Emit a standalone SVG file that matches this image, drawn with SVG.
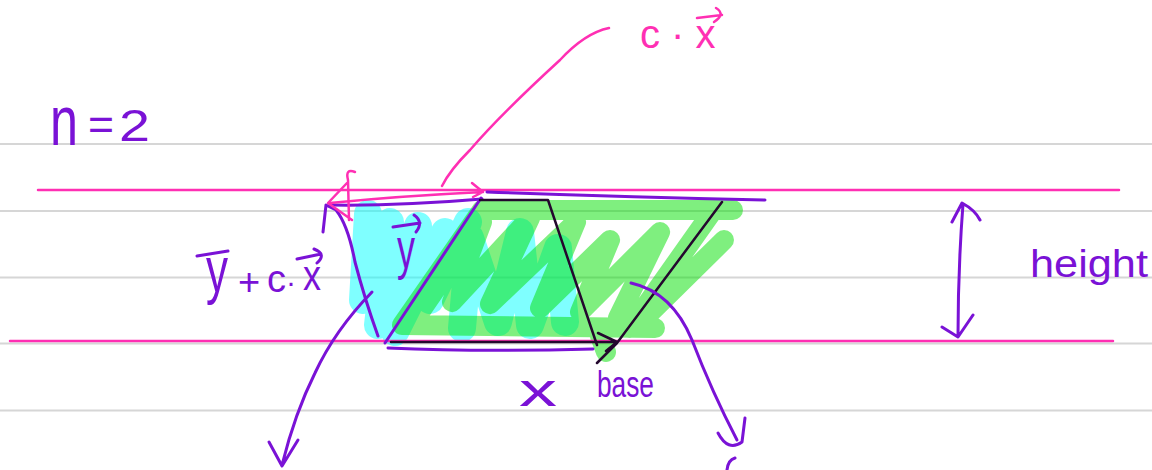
<svg xmlns="http://www.w3.org/2000/svg" width="1152" height="470" viewBox="0 0 1152 470">
<style>
.rule{stroke:#d6d6d6;stroke-width:2}
.s{fill:none;stroke-linecap:round;stroke-linejoin:round}
.pu{stroke:#7a12d6;stroke-width:3}
.pk{stroke:#ff2fb3;stroke-width:2.5}
.dk{stroke:#24082e;stroke-width:2.5}
.cy{stroke:#00ffff;stroke-opacity:0.5;stroke-width:28}
.gr{stroke:#00e000;stroke-opacity:0.5;stroke-width:20}
.t{font-family:"Liberation Sans",Arial,sans-serif}
.tp{fill:#7a12d6}
.tk{fill:#ff2fb3}
</style>
<rect width="1152" height="470" fill="#ffffff"/>
<g id="rules">
<line class="rule" x1="0" y1="144" x2="1152" y2="144"/>
<line class="rule" x1="0" y1="211" x2="1152" y2="211"/>
<line class="rule" x1="0" y1="277.5" x2="1152" y2="277.5"/>
<line class="rule" x1="0" y1="343.5" x2="1152" y2="343.5"/>
<line class="rule" x1="0" y1="410.5" x2="1152" y2="410.5"/>
</g>
<g id="highlights">
<path class="s cy" d="M368,214 L363,300 L390,222 L378,325 L418,226 L395,332 L445,232 L430,300 L468,222 M462,328 L470,238 L498,322 L520,232 L530,325 L558,248 L565,322"/>
<path class="s gr" d="M733,210 L482,210 L402,325 L655,328 M712,212 L630,328 M724,240 L645,318 M420,312 L482,222 L452,302 L530,218 L490,304 L576,222 L540,308 L610,240 L580,312 L660,232 L618,318 M600,336 L606,352"/>
</g>
<g id="guides">
<line class="s pk" x1="38" y1="190" x2="1119" y2="190"/>
<line class="s pk" x1="10" y1="341" x2="1113" y2="341"/>
</g>
<g id="shape">
<path class="s pu" d="M385,343 L481,198"/>
<path class="s pu" d="M330,205 Q400,206 482,199"/>
<path class="s pu" d="M487,192 Q620,197 765,200"/>
<path class="s dk" d="M480,200 L548,200 L597,345"/>
<path class="s dk" d="M722,202 L617,343 L597,363"/>
<path class="s dk" d="M391,342 L617,342 M598,333 L617,342 L606,351"/>
<path class="s pu" d="M388,348 Q480,352 593,349"/>
<path class="s pu" d="M378,336 Q365,300 355,262 Q348,225 336,210 L326,205 L323,232"/>
<path class="s pk" d="M330,203 Q400,196 483,192 M472,183 L483,192 L473,197"/>
<path class="s pk" d="M347,183 L328,203 L352,220 M348,180 L349,220 M348,180 Q345,168 355,172"/>
</g>
<g id="connectors">
<path class="s pk" d="M609,28 Q585,33 560,60 Q500,115 470,150 Q450,170 442,186"/>
<path class="s pu" d="M372,292 Q335,330 315,373 Q295,413 282,465 M269,442 L282,466 L298,440"/>
<path class="s pu" d="M631,283 Q672,292 692,340 Q712,392 737,440 M718,433 Q728,452 742,442 L745,418"/>
<path class="s pu" d="M727,470 Q728,460 735,458"/>
<path class="s pu" d="M963,204 Q958,270 958,336 M952,222 L962,203 Q975,210 980,220 M942,327 L958,337 L973,315"/>
</g>
<g id="labels">
<text class="t tp" y="145"><tspan x="50" font-size="70" textLength="28" lengthAdjust="spacingAndGlyphs">n</tspan><tspan x="88" y="140" font-size="44" textLength="26" lengthAdjust="spacingAndGlyphs">=</tspan><tspan x="119" y="141" font-size="44" textLength="31" lengthAdjust="spacingAndGlyphs">2</tspan></text>
<text class="t tk" x="640" y="48" font-size="40">c · x</text>
<path class="s pk" d="M697,18 L722,15 M716,8 Q726,14 714,22"/>
<text class="t tp" x="206" y="292" font-size="64" textLength="22" lengthAdjust="spacingAndGlyphs">y</text>
<path class="s pu" d="M197,256 L228,251"/>
<text class="t tp" x="238" y="295" font-size="38">+</text>
<text class="t tp" x="267" y="292" font-size="38">c</text>
<text class="t tp" x="286" y="292" font-size="30">·</text>
<text class="t tp" x="303" y="290" font-size="42" textLength="18" lengthAdjust="spacingAndGlyphs">x</text>
<path class="s pu" d="M297,259 L321,254 M314,249 Q327,254 317,263"/>
<text class="t tp" x="397" y="268" font-size="58" textLength="18" lengthAdjust="spacingAndGlyphs">y</text>
<path class="s pu" d="M393,227 L420,223 M414,215 Q424,222 416,232"/>
<text class="t tp" x="519" y="406" font-size="46" textLength="38" lengthAdjust="spacingAndGlyphs">x</text>
<text class="t tp" x="597" y="397" font-size="36" textLength="57" lengthAdjust="spacingAndGlyphs">base</text>
<text class="t tp" x="1030" y="277" font-size="38" textLength="118" lengthAdjust="spacingAndGlyphs">height</text>
</g>
</svg>
